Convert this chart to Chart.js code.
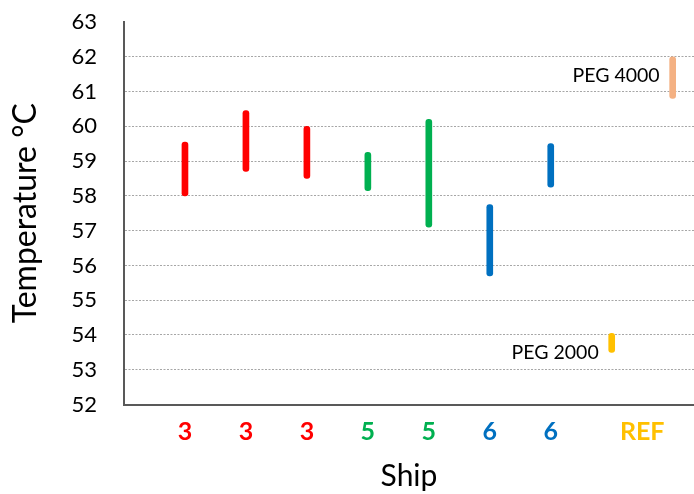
<!DOCTYPE html>
<html>
<head>
<meta charset="utf-8">
<script src="https://cdn.jsdelivr.net/npm/chart.js@4"></script>
<style>
  html, body { margin: 0; padding: 0; background: #fff; }
  #wrap { width: 694px; height: 494px; }
</style>
</head>
<body>
<div id="wrap"><canvas id="temps"></canvas></div>
<script>
// ships, in the order they sit on the x axis
const ships = ['3', '3', '3', '5', '5', '6', '6', 'PEG 2000', 'PEG 4000']
const shipPos = [1, 2, 3, 4, 5, 6, 7, 8, 9]
const lows = [58.0, 58.7, 58.5, 58.15, 57.1, 55.7, 58.25, 53.5, 60.8]
const highs = [59.55, 60.45, 60.0, 59.25, 60.2, 57.75, 59.5, 54.05, 62.0]
const barColors = ['#FF0000', '#FF0000', '#FF0000', '#00B050', '#00B050', '#0070C0', '#0070C0', '#FFC000', '#F4B183']

// tick labels under the axis (REF sits between the two PEG bars)
const xLabels = ['3', '3', '3', '5', '5', '6', '6', 'REF']
const xLabelPos = [1, 2, 3, 4, 5, 6, 7, 8.5]
const xLabelColors = ['#FF0000', '#FF0000', '#FF0000', '#00B050', '#00B050', '#0070C0', '#0070C0', '#FFC000']

// text notes beside the reference bars
const notes = [
    { text: 'PEG 4000', x: 9, y: 61.45 },
    { text: 'PEG 2000', x: 8, y: 53.5 }
]

const notePlugin = {
    id: 'notes',
    afterDatasetsDraw(chart) {
        const ctx = chart.ctx
        const xs = chart.scales.x
        const ys = chart.scales.y
        ctx.save()
        ctx.font = '19.5px Lato'
        ctx.fillStyle = '#000'
        ctx.textAlign = 'right'
        ctx.textBaseline = 'middle'
        notes.forEach(n => {
            ctx.fillText(n.text, xs.getPixelForValue(n.x) - 13, ys.getPixelForValue(n.y))
        })
        ctx.restore()
    }
}

new Chart(document.querySelector('#temps'), {
    type: 'bar',
    data: {
        datasets: [{
            label: 'Temperature',
            data: shipPos.map((x, i) => ({ x: x, y: [lows[i], highs[i]] })),
            backgroundColor: barColors,
            barThickness: shipPos.map(x => (x >= 8 ? 5 : 6)),
            borderRadius: 3,
            borderSkipped: false
        }]
    },
    options: {
        responsive: true,
        maintainAspectRatio: false,
        animation: false,
        layout: { padding: { top: 22, right: 0, bottom: 0, left: 0 } },
        plugins: {
            legend: { display: false },
            tooltip: { enabled: false }
        },
        scales: {
            x: {
                type: 'linear',
                offset: false,
                min: 0,
                max: 9.35,
                afterBuildTicks: axis => {
                    axis.ticks = xLabelPos.map(v => ({ value: v }))
                },
                afterFit: axis => { axis.height = 89.5 },
                grid: { display: false, drawTicks: false },
                border: { color: '#595959', width: 2 },
                ticks: {
                    autoSkip: false,
                    maxRotation: 0,
                    padding: 12,
                    font: { family: 'Lato', size: 25, weight: 'bold' },
                    color: ctx => xLabelColors[ctx.index],
                    callback: (v, i) => xLabels[i]
                },
                title: {
                    display: true,
                    text: 'Ship',
                    color: '#000',
                    font: { family: 'Lato', size: 30 },
                    padding: { top: 0, bottom: 0 }
                }
            },
            y: {
                min: 52,
                max: 63,
                afterFit: axis => { axis.width = 124 },
                grid: {
                    drawTicks: true,
                    tickLength: 24,
                    tickColor: 'rgba(0,0,0,0)',
                    color: ctx => (ctx.tick && (ctx.tick.value === 52 || ctx.tick.value === 63) ? 'rgba(0,0,0,0)' : '#A6A6A6'),
                    lineWidth: 1
                },
                border: { color: '#595959', width: 2, dash: [2, 1.5] },
                ticks: {
                    stepSize: 1,
                    padding: 3,
                    color: '#000',
                    font: { family: 'Lato', size: 22 }
                },
                title: {
                    display: true,
                    text: 'Temperature °C',
                    color: '#000',
                    font: { family: 'Lato', size: 32 },
                    padding: { top: 6, bottom: 0 }
                }
            }
        }
    },
    plugins: [notePlugin]
})
</script>
</body>
</html>
